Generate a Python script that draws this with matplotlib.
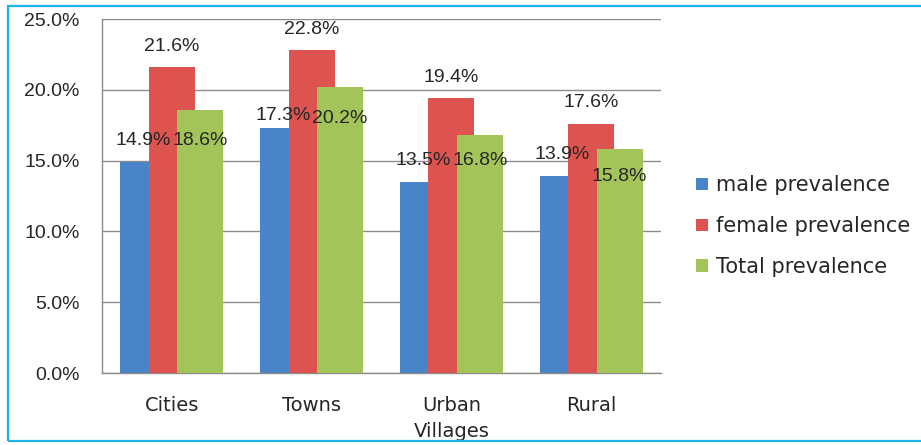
import matplotlib
matplotlib.use("Agg")
import matplotlib.pyplot as plt
from matplotlib.patches import Rectangle
import numpy as np

categories = ["Cities", "Towns", "Urban\nVillages", "Rural"]
series_names = ["male prevalence", "female prevalence", "Total prevalence"]
male = [14.9, 17.3, 13.5, 13.9]
female = [21.6, 22.8, 19.4, 17.6]
total = [18.6, 20.2, 16.8, 15.8]
# label placement heights (in % units)
male_label_y = [16.4, 18.2, 15.0, 15.4]
female_label_y = [23.05, 24.26, 20.87, 19.1]
total_label_y = [16.4, 18.0, 15.0, 13.9]
yticks = [0, 5, 10, 15, 20, 25]

colors = ["#4a84c8", "#dc5350", "#a2c459"]
FONT = "Liberation Sans"
plt.rcParams["font.family"] = [FONT, "DejaVu Sans"]

W, H = 921, 445
fig = plt.figure(figsize=(W / 100, H / 100), dpi=100)
ax = fig.add_axes([102 / W, (H - 373) / H, 559 / W, (373 - 19) / H])

x = np.arange(len(categories))
width = 0.33
step = 0.204
offsets = [-step, 0, step]
all_vals = [male, female, total]
all_lab = [male_label_y, female_label_y, total_label_y]
for i, (vals, labs) in enumerate(zip(all_vals, all_lab)):
    ax.bar(x + offsets[i], vals, width=width, color=colors[i], zorder=2 + i,
           label=series_names[i])
    for xi, v, ly in zip(x + offsets[i], vals, labs):
        ax.text(xi, ly, f"{v:.1f}%", ha="center", va="center", fontsize=14,
                color="#262626", zorder=10)

ax.set_xlim(-0.5, 3.5)
ax.set_ylim(0, 25)
ax.set_yticks(yticks)
ax.set_yticklabels([f"{t:.1f}%" for t in yticks], fontsize=14, color="#262626")
ax.set_xticks(x)
ax.set_xticklabels(categories, fontsize=14, color="#262626", linespacing=1.5,
                   family=["DejaVu Sans"])
ax.tick_params(axis="both", length=0)
ax.tick_params(axis="y", pad=16)
ax.tick_params(axis="x", pad=16.5)
ax.yaxis.grid(True, color="#8c8c8c", linewidth=1.0, zorder=0)
ax.set_axisbelow(True)
for s in ["top", "right"]:
    ax.spines[s].set_visible(False)
for s in ["left", "bottom"]:
    ax.spines[s].set_color("#8c8c8c")
    ax.spines[s].set_linewidth(1.0)

leg = fig.legend(loc="upper left", bbox_to_anchor=(688 / W, 1 - 167 / H),
                 frameon=False, prop={"family": ["DejaVu Sans"], "size": 15},
                 handlelength=0.55, handleheight=0.55,
                 handletextpad=0.4, labelspacing=1.0, borderaxespad=0)
for t in leg.get_texts():
    t.set_color("#262626")

fig.patches.append(Rectangle((8 / W, (H - 441) / H), 1.0, (441 - 6) / H,
                             transform=fig.transFigure, fill=False,
                             edgecolor="#1cb2ea", linewidth=1.6))

fig.savefig("out.png", dpi=100)
